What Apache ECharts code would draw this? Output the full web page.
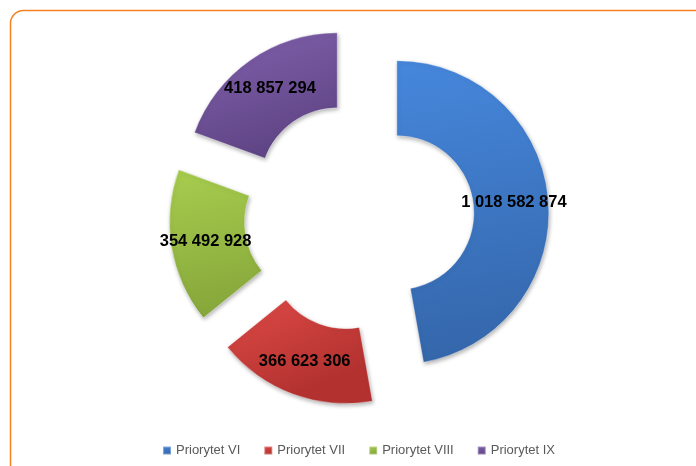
<!DOCTYPE html>
<html>
<head>
<meta charset="utf-8">
<script src="https://cdn.jsdelivr.net/npm/echarts@6/dist/echarts.min.js"></script>
<style>
  html, body { margin: 0; padding: 0; background: #fff; }
  #chart { width: 696px; height: 466px; }
</style>
</head>
<body>
<div id="chart"></div>
<script>
// Priorytety - alokacja
const categories = ['Priorytet VI', 'Priorytet VII', 'Priorytet VIII', 'Priorytet IX'];
const values = [1018582874, 366623306, 354492928, 418857294];

// kolory w stylu Excela (jasny -> ciemny)
const colorsTop = ['#4687dc', '#de4a46', '#a7cd4e', '#8262ae'];
const colorsBottom = ['#3466aa', '#b33230', '#86a63a', '#604586'];

function formatNum(v) {
    return String(v).replace(/\B(?=(\d{3})+(?!\d))/g, ' ');
}

const chart = echarts.init(document.getElementById('chart'));

const seriesData = categories.map((name, i) => ({
    name: name,
    value: values[i],
    selected: true,
    // etykieta zielonego wycinka w Excelu siedzi nizej
    label: { offset: i === 2 ? [0, 53] : [0, 4] },
    itemStyle: {
        color: {
            type: 'linear', x: 0, y: 0, x2: 0.3, y2: 1,
            colorStops: [
                { offset: 0, color: colorsTop[i] },
                { offset: 1, color: colorsBottom[i] }
            ]
        }
    }
}));

const option = {
    animation: false,
    graphic: [{
        type: 'rect',
        shape: { x: 10.5, y: 10.5, width: 720, height: 500, r: 13 },
        style: { fill: 'none', stroke: '#f58220', lineWidth: 1.5 },
        silent: true
    }],
    legend: {
        data: categories,
        left: 157,
        top: 439,
        icon: 'rect',
        itemWidth: 8,
        itemHeight: 8,
        itemGap: 23,
        selectedMode: false,
        textStyle: {
            color: '#595959',
            fontSize: 13,
            fontFamily: 'Liberation Sans, Arial, sans-serif'
        }
    },
    series: [{
        type: 'pie',
        center: [359, 216],
        radius: [77, 152],
        startAngle: 90,
        clockwise: true,
        selectedMode: 'multiple',
        selectedOffset: 38,
        avoidLabelOverlap: false,
        emphasis: { scale: false, disabled: true },
        itemStyle: {
            borderColor: 'rgba(255,255,255,0.35)',
            borderWidth: 1,
            shadowBlur: 4,
            shadowColor: 'rgba(0,0,0,0.3)',
            shadowOffsetX: 1,
            shadowOffsetY: 2
        },
        label: {
            show: true,
            position: 'inside',
            color: '#000',
            fontSize: 16.5,
            fontWeight: 'bold',
            fontFamily: 'Liberation Sans, Arial, sans-serif',
            formatter: p => formatNum(p.value)
        },
        labelLine: { show: false },
        data: seriesData
    }]
};

chart.setOption(option);
window.addEventListener('resize', () => chart.resize());
</script>
</body>
</html>
